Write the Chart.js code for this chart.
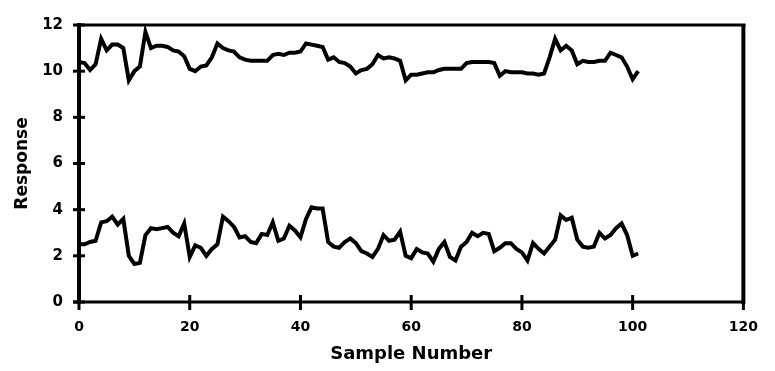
<!DOCTYPE html>
<html>
<head>
<meta charset="utf-8">
<script src="https://cdn.jsdelivr.net/npm/chart.js@4/dist/chart.umd.min.js"></script>
<style>
  html, body { margin: 0; padding: 0; background: #ffffff; }
  #wrap { width: 775px; height: 371px; }
</style>
</head>
<body>
<div id="wrap"><canvas id="chart" width="775" height="371"></canvas></div>
<script>
// Sample index for each reading
const sampleNumbers = [
  0, 1, 2, 3, 4, 5, 6, 7, 8, 9, 10, 11, 12, 13, 14, 15, 16, 17, 18, 19,
  20, 21, 22, 23, 24, 25, 26, 27, 28, 29, 30, 31, 32, 33, 34, 35, 36, 37, 38, 39,
  40, 41, 42, 43, 44, 45, 46, 47, 48, 49, 50, 51, 52, 53, 54, 55, 56, 57, 58, 59,
  60, 61, 62, 63, 64, 65, 66, 67, 68, 69, 70, 71, 72, 73, 74, 75, 76, 77, 78, 79,
  80, 81, 82, 83, 84, 85, 86, 87, 88, 89, 90, 91, 92, 93, 94, 95, 96, 97, 98, 99,
  100, 101
];

// Upper response trace (around 10-11)
const upperResponse = [
  10.4, 10.35, 10.05, 10.3, 11.4, 10.9, 11.15, 11.15, 11.0, 9.6,
  10.0, 10.2, 11.7, 11.0, 11.1, 11.1, 11.05, 10.9, 10.85, 10.65,
  10.1, 10.0, 10.2, 10.25, 10.6, 11.2, 11.0, 10.9, 10.85, 10.6,
  10.5, 10.45, 10.45, 10.45, 10.45, 10.7, 10.75, 10.7, 10.8, 10.8,
  10.85, 11.2, 11.15, 11.1, 11.05, 10.5, 10.6, 10.4, 10.35, 10.2,
  9.9, 10.05, 10.1, 10.3, 10.7, 10.55, 10.6, 10.55, 10.45, 9.6,
  9.85, 9.85, 9.9, 9.95, 9.95, 10.05, 10.1, 10.1, 10.1, 10.1,
  10.35, 10.4, 10.4, 10.4, 10.4, 10.35, 9.8, 10.0, 9.95, 9.95,
  9.95, 9.9, 9.9, 9.85, 9.9, 10.6, 11.4, 10.9, 11.1, 10.9,
  10.3, 10.45, 10.4, 10.4, 10.45, 10.45, 10.8, 10.7, 10.6, 10.2,
  9.65, 10.0
];

// Lower response trace (around 2-4)
const lowerResponse = [
  2.5, 2.5, 2.6, 2.65, 3.45, 3.5, 3.7, 3.35, 3.6, 2.0,
  1.65, 1.7, 2.9, 3.2, 3.15, 3.2, 3.25, 3.0, 2.85, 3.4,
  1.95, 2.45, 2.35, 2.0, 2.3, 2.5, 3.7, 3.5, 3.25, 2.8,
  2.85, 2.6, 2.55, 2.95, 2.9, 3.45, 2.65, 2.75, 3.3, 3.1,
  2.8, 3.6, 4.1, 4.05, 4.05, 2.6, 2.4, 2.35, 2.6, 2.75,
  2.55, 2.2, 2.1, 1.95, 2.3, 2.9, 2.65, 2.7, 3.05, 2.0,
  1.9, 2.3, 2.15, 2.1, 1.75, 2.3, 2.6, 1.95, 1.8, 2.4,
  2.6, 3.0, 2.85, 3.0, 2.95, 2.2, 2.35, 2.55, 2.55, 2.3,
  2.15, 1.8, 2.55, 2.3, 2.1, 2.4, 2.7, 3.75, 3.55, 3.65,
  2.7, 2.4, 2.35, 2.4, 3.0, 2.75, 2.9, 3.2, 3.4, 2.9,
  2.0, 2.1
];

const xTicks = [0, 20, 40, 60, 80, 100, 120];
const yTicks = [0, 2, 4, 6, 8, 10, 12];

const toPoints = (xs, ys) => xs.map((x, i) => ({ x: x, y: ys[i] }));

const FONT = "'DejaVu Sans', 'Liberation Sans', sans-serif";

// Heavy frame with ticks that straddle the axis lines
const framePlugin = {
  id: 'frame',
  beforeDatasetsDraw(chart) {
    const ctx = chart.ctx;
    const xs = chart.scales.x, ys = chart.scales.y;
    const x0 = xs.getPixelForValue(0), x1 = xs.getPixelForValue(120);
    const y0 = ys.getPixelForValue(0), y1 = ys.getPixelForValue(12);
    ctx.save();
    ctx.strokeStyle = '#000';
    ctx.lineCap = 'butt';
    // top border
    ctx.lineWidth = 3;
    ctx.beginPath(); ctx.moveTo(x0, y1); ctx.lineTo(x1 + 2, y1); ctx.stroke();
    // right border
    ctx.lineWidth = 4;
    ctx.beginPath(); ctx.moveTo(x1, y1 - 1); ctx.lineTo(x1, y0 + 2); ctx.stroke();
    // left (value) axis
    ctx.lineWidth = 4;
    ctx.beginPath(); ctx.moveTo(x0, y1 - 2); ctx.lineTo(x0, y0 + 2); ctx.stroke();
    // bottom (category) axis
    ctx.lineWidth = 3;
    ctx.beginPath(); ctx.moveTo(x0 - 6, y0); ctx.lineTo(x1, y0); ctx.stroke();
    // y tick marks
    ctx.lineWidth = 3;
    yTicks.forEach(v => {
      const p = ys.getPixelForValue(v);
      ctx.beginPath(); ctx.moveTo(x0 - 6, p); ctx.lineTo(x0 + 6, p); ctx.stroke();
    });
    // x tick marks
    xTicks.forEach(v => {
      const p = xs.getPixelForValue(v);
      ctx.beginPath(); ctx.moveTo(p, y0 - 7); ctx.lineTo(p, y0 + 8); ctx.stroke();
    });
    ctx.restore();
  }
};

new Chart(document.getElementById('chart'), {
  type: 'line',
  data: {
    datasets: [
      {
        data: toPoints(sampleNumbers, upperResponse),
        borderColor: '#000',
        borderWidth: 4,
        pointRadius: 0,
        tension: 0,
        fill: false
      },
      {
        data: toPoints(sampleNumbers, lowerResponse),
        borderColor: '#000',
        borderWidth: 4,
        pointRadius: 0,
        tension: 0,
        fill: false
      }
    ]
  },
  options: {
    responsive: false,
    animation: false,
    devicePixelRatio: 1,
    layout: { padding: { top: 13, right: 19, left: 0, bottom: 0 } },
    plugins: {
      legend: { display: false },
      tooltip: { enabled: false }
    },
    scales: {
      x: {
        type: 'linear',
        min: 0,
        max: 120,
        afterBuildTicks: s => { s.ticks = xTicks.map(v => ({ value: v })); },
        afterFit: s => { s.height = 69; },
        grid: { display: false, drawTicks: false },
        border: { display: false },
        ticks: {
          color: '#000',
          padding: 17,
          maxRotation: 0,
          font: { family: FONT, size: 14, weight: 'bold' }
        },
        title: {
          display: true,
          text: 'Sample Number',
          color: '#000',
          padding: { top: 0, bottom: 6 },
          font: { family: FONT, size: 18, weight: 'bold' }
        }
      },
      y: {
        type: 'linear',
        min: 0,
        max: 12,
        afterBuildTicks: s => { s.ticks = yTicks.map(v => ({ value: v })); },
        afterFit: s => { s.width = 79; },
        grid: { display: false, drawTicks: false },
        border: { display: false },
        ticks: {
          color: '#000',
          padding: 16,
          font: { family: FONT, size: 15, weight: 'bold' }
        },
        title: {
          display: true,
          text: 'Response',
          color: '#000',
          padding: { top: 12, bottom: 0 },
          font: { family: FONT, size: 17, weight: 'bold' }
        }
      }
    }
  },
  plugins: [framePlugin]
});
</script>
</body>
</html>
